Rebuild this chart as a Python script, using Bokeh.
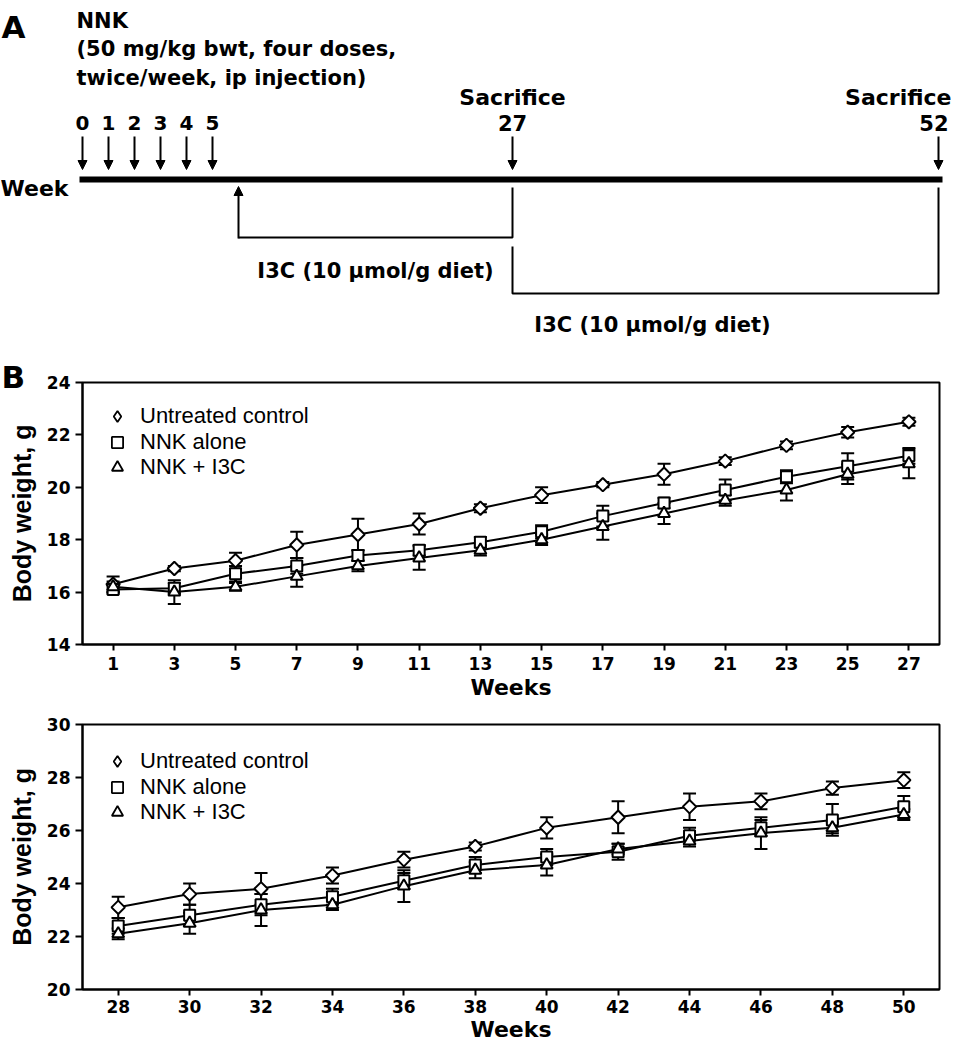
import numpy as np
from bokeh.plotting import figure
from bokeh.models import (Range1d, FixedTicker, Whisker, TeeHead, ColumnDataSource,
                          Legend, LegendItem, Arrow, NormalHead, Label, Title)
from bokeh.layouts import column
from bokeh.embed import file_html
from bokeh.resources import INLINE

# ---------------- data ----------------
series_names = ["Untreated control", "NNK alone", "NNK + I3C"]

weeks_1 = [1, 3, 5, 7, 9, 11, 13, 15, 17, 19, 21, 23, 25, 27]
ctrl_1 = [16.3, 16.9, 17.2, 17.8, 18.2, 18.6, 19.2, 19.7, 20.1, 20.5, 21.0, 21.6, 22.1, 22.5]
ctrl_1_err = [0.3, 0.1, 0.3, 0.5, 0.6, 0.4, 0.15, 0.3, 0.1, 0.4, 0.15, 0.15, 0.2, 0.15]
nnk_1 = [16.1, 16.15, 16.7, 17.0, 17.4, 17.6, 17.9, 18.3, 18.9, 19.4, 19.9, 20.4, 20.8, 21.2]
nnk_1_err = [0.15, 0.2, 0.3, 0.3, 0.2, 0.2, 0.2, 0.25, 0.4, 0.2, 0.4, 0.25, 0.5, 0.3]
i3c_1 = [16.2, 16.0, 16.2, 16.6, 17.0, 17.3, 17.6, 18.0, 18.5, 19.0, 19.5, 19.9, 20.5, 20.9]
i3c_1_err = [0.2, 0.45, 0.15, 0.4, 0.2, 0.45, 0.2, 0.2, 0.5, 0.4, 0.2, 0.4, 0.37, 0.55]
y_ticks_1 = [14, 16, 18, 20, 22, 24]

weeks_2 = [28, 30, 32, 34, 36, 38, 40, 42, 44, 46, 48, 50]
ctrl_2 = [23.1, 23.6, 23.8, 24.3, 24.9, 25.4, 26.1, 26.5, 26.9, 27.1, 27.6, 27.9]
ctrl_2_err = [0.4, 0.4, 0.6, 0.3, 0.3, 0.15, 0.4, 0.6, 0.5, 0.3, 0.25, 0.3]
nnk_2 = [22.4, 22.8, 23.2, 23.5, 24.1, 24.7, 25.0, 25.2, 25.8, 26.1, 26.4, 26.9]
nnk_2_err = [0.3, 0.4, 0.4, 0.3, 0.3, 0.3, 0.3, 0.3, 0.3, 0.3, 0.6, 0.4]
i3c_2 = [22.1, 22.5, 23.0, 23.2, 23.9, 24.5, 24.7, 25.3, 25.6, 25.9, 26.1, 26.6]
i3c_2_err = [0.2, 0.4, 0.6, 0.2, 0.6, 0.3, 0.4, 0.2, 0.2, 0.6, 0.2, 0.2]
y_ticks_2 = [20, 22, 24, 26, 28, 30]

# panel A schematic
nnk_dose_weeks = [0, 1, 2, 3, 4, 5]
i3c_start_week = 6
sacrifice_weeks = [27, 52]
nnk_title = ["NNK", "(50 mg/kg bwt, four doses,", "twice/week, ip injection)"]
i3c_label = "I3C (10 \u00b5mol/g diet)"
sacrifice_label = "Sacrifice"
week_label = "Week"

BOLD = "DejaVu Sans"
W = 954
BL, BR = 82, 15   # chart borders


# ---------------- panel A (schematic) ----------------
def sx(w):
    # schematic (non-linear) week -> horizontal position
    return float(np.interp(w, [0, 6, 27, 52], [82, 238, 512, 938]))


HA = 338
pa = figure(width=W, height=HA, x_range=Range1d(0, W), y_range=Range1d(HA, 0),
            output_backend="svg", toolbar_location=None, title=None, min_border=0,
            x_axis_location=None, y_axis_location=None)
pa.grid.visible = False
pa.outline_line_color = None


def lab(p, x, y, s, size, align="left", font=BOLD, style="bold"):
    p.add_layout(Label(x=x, y=y, text=s, text_font=font, text_font_style=style,
                       text_font_size=f"{size}px", text_align=align,
                       text_baseline="alphabetic", text_color="black"))


lab(pa, 1, 26, "A", 31)
for i, line in enumerate(nnk_title):
    lab(pa, 76, 20 + i * 28.5, line, 21)

for w in nnk_dose_weeks:
    lab(pa, sx(w), 122, str(w), 20, align="center")

lab(pa, sx(sacrifice_weeks[0]), 97, sacrifice_label, 22, align="center")
lab(pa, sx(sacrifice_weeks[0]), 122, str(sacrifice_weeks[0]), 21, align="center")
lab(pa, 951, 97, sacrifice_label, 22, align="right")
lab(pa, 948, 122, str(sacrifice_weeks[1]), 21, align="right")

lab(pa, 0, 188, week_label, 22)

# timeline
pa.add_layout(Arrow(x_start=79, y_start=179, x_end=942, y_end=179, end=None,
                    line_width=6, line_color="black", line_cap="butt"))

down_x = [sx(w) for w in nnk_dose_weeks + sacrifice_weeks]
arr_src = ColumnDataSource(dict(x=down_x, y0=[136] * len(down_x), y1=[169] * len(down_x)))
pa.add_layout(Arrow(source=arr_src, x_start="x", y_start="y0", x_end="x", y_end="y1",
                    line_width=2, line_color="black",
                    end=NormalHead(size=9, fill_color="black", line_color="black", line_width=1)))

xs0 = sx(i3c_start_week)
xs1 = sx(sacrifice_weeks[0])
xs2 = sx(sacrifice_weeks[1])
# I3C period 1 bracket
pa.add_layout(Arrow(x_start=xs0, y_start=238, x_end=xs0, y_end=186, line_width=2, line_color="black",
                    end=NormalHead(size=9, fill_color="black", line_color="black", line_width=1)))
pa.line(x=[xs0, xs1, xs1], y=[237, 237, 187], line_width=2, line_color="black")
lab(pa, (xs0 + xs1) / 2, 270, i3c_label, 21, align="center")
# I3C period 2 bracket
pa.line(x=[xs1, xs1, xs2, xs2], y=[246, 293, 293, 187], line_width=2, line_color="black")
lab(pa, (xs1 + xs2) / 2 - 73, 324, i3c_label, 21, align="center")


# ---------------- panel B charts ----------------
def chart(weeks, vals, errs, xr, yr, yticks, height, bt, bb, leg_top,
          lab_standoff, title_standoff, panel_letter=None):
    p = figure(width=W, height=height, x_range=Range1d(*xr), y_range=Range1d(*yr),
               output_backend="svg", toolbar_location=None, title=None,
               min_border_left=BL, min_border_right=BR, min_border_top=bt, min_border_bottom=bb)
    p.grid.visible = False
    p.outline_line_color = "black"
    p.outline_line_width = 2
    frame_h = height - bt - bb

    markers = ["square", "square", "triangle"]
    angles = [np.pi / 4, 0, 0]
    sizes = [9.5, 11, 12]
    legend_markers = ["diamond", "square", "triangle"]
    for i, (name, v, e, m, a, s, lm) in enumerate(zip(series_names, vals, errs, markers,
                                                      angles, sizes, legend_markers)):
        src = ColumnDataSource(dict(x=weeks, y=v,
                                    lo=[c - d for c, d in zip(v, e)],
                                    hi=[c + d for c, d in zip(v, e)]))
        p.add_layout(Whisker(source=src, base="x", upper="hi", lower="lo",
                             line_width=2, line_color="black", level="underlay",
                             upper_head=TeeHead(size=13, line_width=2, line_color="black"),
                             lower_head=TeeHead(size=13, line_width=2, line_color="black")))
        p.line("x", "y", source=src, line_width=2, line_color="black")
        p.scatter("x", "y", source=src, marker=m, angle=a, size=s, fill_color="white",
                  line_color="black", line_width=2)
        # legend symbol (not drawn on the plot itself)
        lr = p.scatter("x", "y", source=src, marker=lm, size=s, fill_color="white",
                       line_color="black", line_width=1.8, visible=False)
        gw, gh = 28, 32
        center_from_top = leg_top + 25.5 * i
        leg = Legend(items=[LegendItem(label=name, renderers=[lr])],
                     location=(35 - gw / 2, frame_h - center_from_top - gh / 2),
                     border_line_color=None, background_fill_alpha=0,
                     label_text_font="Liberation Sans", label_text_font_size="22px",
                     label_text_color="black", glyph_width=gw, glyph_height=gh,
                     spacing=0, padding=0, margin=0, label_standoff=9)
        p.add_layout(leg)

    p.xaxis.ticker = FixedTicker(ticks=weeks)
    p.yaxis.ticker = FixedTicker(ticks=yticks)
    for ax in (p.xaxis[0], p.yaxis[0]):
        ax.axis_line_width = 2
        ax.axis_line_color = "black"
        ax.major_tick_line_width = 2
        ax.major_tick_line_color = "black"
        ax.major_tick_out = 6
        ax.major_tick_in = 0
        ax.minor_tick_line_color = None
        ax.major_label_text_font = BOLD
        ax.major_label_text_font_style = "bold"
        ax.major_label_text_font_size = "17px"
        ax.major_label_text_color = "black"
    p.yaxis.major_tick_out = 7
    p.xaxis.axis_label = "Weeks"
    p.xaxis.axis_label_text_font = BOLD
    p.xaxis.axis_label_text_font_style = "bold"
    p.xaxis.axis_label_text_font_size = "22px"
    p.xaxis.axis_label_text_color = "black"
    p.xaxis.axis_label_standoff = title_standoff
    p.xaxis.major_label_standoff = lab_standoff
    p.yaxis.axis_label = "Body weight, g"
    p.yaxis.axis_label_text_font = "Liberation Sans"
    p.yaxis.axis_label_text_font_style = "bold"
    p.yaxis.axis_label_text_font_size = "25px"
    p.yaxis.axis_label_text_color = "black"
    p.yaxis.axis_label_standoff = 8
    p.yaxis.major_label_standoff = 5

    if panel_letter:
        p.add_layout(Title(text=panel_letter, align="left", offset=-81, standoff=-24,
                           text_font=BOLD, text_font_style="bold", text_font_size="31px",
                           text_color="black"), "above")
    return p


p1 = chart(weeks_1, [ctrl_1, nnk_1, i3c_1], [ctrl_1_err, nnk_1_err, i3c_1_err],
           (0, 28), (14, 24), y_ticks_1, 366, 44, 60, 34, 6, 2, panel_letter="B")
p2 = chart(weeks_2, [ctrl_2, nnk_2, i3c_2], [ctrl_2_err, nnk_2_err, i3c_2_err],
           (27, 51), (20, 30), y_ticks_2, 342, 20, 57, 37, 4, 1)

charts = column(p1, p2, spacing=0)
open("out.html", "w").write(file_html([pa, charts], INLINE))
